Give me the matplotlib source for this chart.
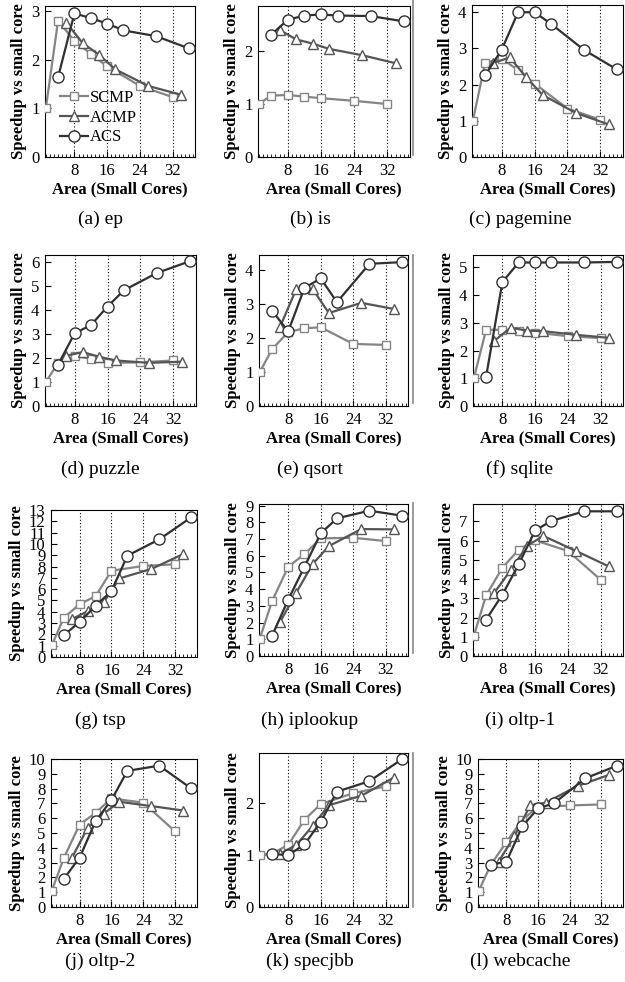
import numpy as np
import matplotlib
matplotlib.use("Agg")
import matplotlib.pyplot as plt
from matplotlib.lines import Line2D

plt.rcParams['font.family'] = ['Liberation Serif', 'DejaVu Serif']

# x positions (area in small cores) for each configuration
scmp_x = [1, 4, 8, 12, 16, 24, 32]
acmp_x = [6, 10, 14, 18, 26, 34]
acs_x = [4, 8, 12, 16, 20, 28, 36]

# benchmark names
bench_names = ["ep", "is", "pagemine", "puzzle", "qsort", "sqlite",
               "tsp", "iplookup", "oltp-1", "oltp-2", "specjbb", "webcache"]
panel_letters = ["a", "b", "c", "d", "e", "f", "g", "h", "i", "j", "k", "l"]

# speedup values
scmp_ep = [1.0, 2.8, 2.38, 2.12, 1.86, 1.46, 1.23]
acmp_ep = [2.76, 2.34, 2.1, 1.8, 1.46, 1.28]
acs_ep = [1.64, 2.95, 2.85, 2.74, 2.6, 2.48, 2.23]

scmp_is = [1.0, 1.16, 1.17, 1.14, 1.11, 1.06, 1.0]
acmp_is = [2.4, 2.22, 2.14, 2.04, 1.92, 1.77]
acs_is = [2.31, 2.59, 2.67, 2.69, 2.67, 2.66, 2.56]

scmp_pagemine = [1.0, 2.6, 2.72, 2.4, 2.03, 1.34, 1.03]
acmp_pagemine = [2.6, 2.75, 2.2, 1.71, 1.22, 0.9]
acs_pagemine = [2.26, 2.96, 4.0, 4.0, 3.68, 2.96, 2.42]

scmp_puzzle = [1.0, 1.8, 2.08, 1.98, 1.8, 1.82, 1.9]
acmp_puzzle = [2.1, 2.25, 2.05, 1.9, 1.8, 1.85]
acs_puzzle = [1.73, 3.03, 3.38, 4.15, 4.83, 5.55, 6.04]

scmp_qsort = [1.0, 1.67, 2.18, 2.29, 2.32, 1.83, 1.8]
acmp_qsort = [2.34, 3.45, 3.45, 2.74, 3.04, 2.86]
acs_qsort = [2.81, 2.2, 3.48, 3.76, 3.06, 4.19, 4.24]

scmp_sqlite = [1.0, 2.75, 2.75, 2.7, 2.65, 2.52, 2.45]
acmp_sqlite = [2.35, 2.83, 2.72, 2.7, 2.57, 2.46]
acs_sqlite = [1.05, 4.48, 5.18, 5.18, 5.18, 5.18, 5.2]

scmp_tsp = [1.03, 3.46, 4.67, 5.38, 7.63, 8.05, 8.2]
acmp_tsp = [3.34, 4.05, 4.82, 6.95, 7.78, 9.1]
acs_tsp = [1.92, 3.1, 4.53, 5.83, 8.96, 10.4, 12.34]

scmp_iplookup = [1.04, 3.28, 5.34, 6.1, 7.04, 7.08, 6.88]
acmp_iplookup = [2.04, 3.8, 5.5, 6.58, 7.6, 7.58]
acs_iplookup = [1.2, 3.38, 5.34, 7.34, 8.24, 8.7, 8.4]

scmp_oltp1 = [1.04, 3.15, 4.59, 5.53, 6.01, 5.46, 3.97]
acmp_oltp1 = [3.29, 4.45, 5.72, 6.24, 5.46, 4.66]
acs_oltp1 = [1.89, 3.19, 4.77, 6.53, 7.02, 7.52, 7.52]

scmp_oltp2 = [1.09, 3.3, 5.57, 6.36, 7.34, 7.05, 5.11]
acmp_oltp2 = [3.3, 5.34, 6.3, 7.11, 6.82, 6.52]
acs_oltp2 = [1.89, 3.34, 5.8, 7.23, 9.2, 9.55, 8.02]

scmp_specjbb = [1.0, 1.02, 1.19, 1.67, 1.97, 2.18, 2.31]
acmp_specjbb = [1.02, 1.19, 1.55, 1.95, 2.13, 2.48]
acs_specjbb = [1.02, 0.99, 1.2, 1.63, 2.21, 2.41, 2.83]

scmp_webcache = [1.09, 2.84, 4.39, 5.9, 6.75, 6.86, 6.93]
acmp_webcache = [3.07, 4.77, 6.86, 7.05, 8.18, 8.93]
acs_webcache = [2.84, 3.07, 5.45, 6.66, 7.0, 8.7, 9.55]

scmp_all = [scmp_ep, scmp_is, scmp_pagemine, scmp_puzzle, scmp_qsort, scmp_sqlite,
            scmp_tsp, scmp_iplookup, scmp_oltp1, scmp_oltp2, scmp_specjbb, scmp_webcache]
acmp_all = [acmp_ep, acmp_is, acmp_pagemine, acmp_puzzle, acmp_qsort, acmp_sqlite,
            acmp_tsp, acmp_iplookup, acmp_oltp1, acmp_oltp2, acmp_specjbb, acmp_webcache]
acs_all = [acs_ep, acs_is, acs_pagemine, acs_puzzle, acs_qsort, acs_sqlite,
           acs_tsp, acs_iplookup, acs_oltp1, acs_oltp2, acs_specjbb, acs_webcache]

# y axis tops
y_tops = [3.1, 2.85, 4.2, 6.3, 4.45, 5.45, 13, 9.1, 7.9, 10, 2.95, 10]

# axes boxes in pixels: left, top, right, bottom
W, H = 625, 982
boxes = [(45, 6, 195, 157), (258, 6, 410, 157), (472, 5, 623, 157),
         (45, 255, 196, 406), (259, 255, 408, 406), (473, 255, 623, 406),
         (51, 510, 197, 657), (259, 504, 408, 656), (473, 504, 623, 656),
         (51, 759, 197, 907), (259, 753, 408, 907), (478, 759, 623, 907)]
caption_x = [100, 310, 520]
caption_y = [219, 469, 720, 961]

c_scmp = '#858585'
c_acmp = '#555555'
c_acs = '#303030'

fig = plt.figure(figsize=(W / 100.0, H / 100.0), dpi=100)

for n in range(12):
    l, t, r, b = boxes[n]
    ax = fig.add_axes([l / W, 1 - b / H, (r - l) / W, (b - t) / H])
    ax.plot(scmp_x, scmp_all[n], '-s', color=c_scmp, lw=1.6, ms=5.5,
            mfc='white', mec=c_scmp, mew=1.0, label='SCMP', zorder=3)
    ax.plot(acmp_x, acmp_all[n], '-^', color=c_acmp, lw=1.6, ms=6.5,
            mfc='white', mec=c_acmp, mew=1.0, label='ACMP', zorder=4)
    ax.plot(acs_x, acs_all[n], '-o', color=c_acs, lw=1.6, ms=8,
            mfc='white', mec=c_acs, mew=1.0, label='ACS', zorder=5)
    ax.set_xlim(0.8, 37.5)
    ax.set_ylim(0, y_tops[n])
    ax.set_xticks([8, 16, 24, 32])
    ax.set_xticks(np.arange(1, 38), minor=True)
    ax.set_yticks(np.arange(0, int(y_tops[n]) + 1))
    ax.tick_params(axis='both', which='major', direction='in', labelsize=12,
                   length=4, pad=4)
    ax.tick_params(axis='x', which='minor', direction='in', length=2.5)
    ax.tick_params(axis='y', which='minor', left=False)
    for v in [8, 16, 24, 32]:
        ax.axvline(v, color='black', lw=0.8, ls=(0, (1, 2)), zorder=1)
    ax.set_xlabel("Area (Small Cores)", fontsize=12, fontweight='bold', labelpad=2)
    ax.set_ylabel("Speedup vs small core", fontsize=12, fontweight='bold', labelpad=3)
    if n == 0:
        ax.legend(loc='center left', bbox_to_anchor=(0.1, 0.26), frameon=False,
                  fontsize=12, handlelength=1.7, handletextpad=0.1,
                  labelspacing=0.22, borderpad=0, borderaxespad=0)
    fig.text(caption_x[n % 3] / W, 1 - caption_y[n // 3] / H,
             "(%s) %s" % (panel_letters[n], bench_names[n]),
             ha='center', va='center', fontsize=14)

# thin separator lines left of the right column
for y0, y1 in [(0, 155), (255, 403), (503, 653), (753, 907)]:
    fig.add_artist(Line2D([413 / W, 413 / W], [1 - y0 / H, 1 - y1 / H],
                          transform=fig.transFigure, color='#888888', lw=1.2))

plt.savefig("out.png", dpi=100)
